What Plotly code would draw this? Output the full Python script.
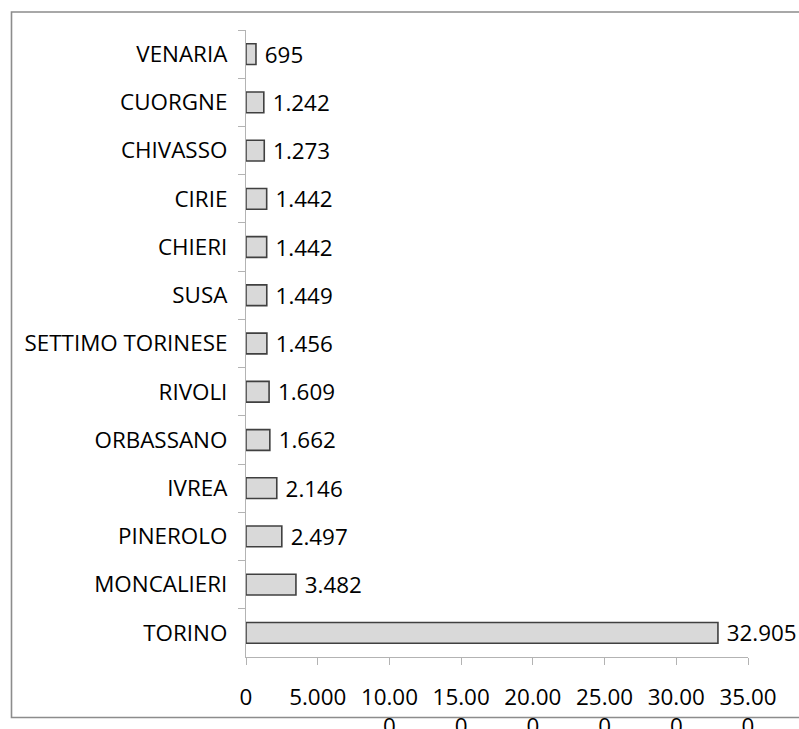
import plotly.graph_objects as go

# Data (top to bottom as displayed)
categories = ["VENARIA", "CUORGNE", "CHIVASSO", "CIRIE", "CHIERI", "SUSA",
              "SETTIMO TORINESE", "RIVOLI", "ORBASSANO", "IVREA", "PINEROLO",
              "MONCALIERI", "TORINO"]
values = [695, 1242, 1273, 1442, 1442, 1449, 1456, 1609, 1662, 2146, 2497, 3482, 32905]

tick_values = [0, 5000, 10000, 15000, 20000, 25000, 30000, 35000]
tick_labels = ["0", "5.000", "10.00<br>0", "15.00<br>0", "20.00<br>0",
               "25.00<br>0", "30.00<br>0", "35.00<br>0"]

FONT = "Open Sans"
W, H = 799, 729
L, R, T, B = 246, 51, 30, 72

fig = go.Figure(go.Bar(
    x=values, y=categories, orientation="h",
    marker=dict(color="#d9d9d9", line=dict(color="#404040", width=1.6)),
    texttemplate=" %{x:,}", textposition="outside", constraintext="none",
    cliponaxis=False,
    textfont=dict(family=FONT, size=22.4, color="#000000"),
    hoverinfo="skip",
))

pw = W - L - R
ph = H - T - B
def px2x(px):
    return (px - L) / pw
def py2y(py):
    return (H - B - py) / ph

fig.update_layout(
    width=W, height=H,
    margin=dict(l=L, r=R, t=T, b=B, autoexpand=False),
    paper_bgcolor="white", plot_bgcolor="white",
    separators=",.",
    bargap=0.57,
    showlegend=False,
    font=dict(family=FONT, size=22.4, color="#000000"),
    xaxis=dict(
        range=[0, 35000], tickvals=tick_values, ticktext=tick_labels,
        showgrid=False, zeroline=False,
        showline=True, linecolor="#b3b3b3", linewidth=1.3,
        ticks="outside", ticklen=7, tickcolor="#b3b3b3", tickwidth=1.3,
        ticklabelstandoff=13,
        tickfont=dict(family=FONT, size=22.4, color="#000000"),
        fixedrange=True,
    ),
    yaxis=dict(
        autorange="reversed", type="category",
        showgrid=False, zeroline=False,
        showline=True, linecolor="#b3b3b3", linewidth=1.3,
        ticks="outside", ticklen=7, tickcolor="#b3b3b3", tickwidth=1.3,
        tickson="boundaries", ticklabelstandoff=13,
        tickfont=dict(family=FONT, size=22.4, color="#000000"),
        fixedrange=True,
    ),
    shapes=[dict(
        type="rect", xref="paper", yref="paper",
        x0=px2x(11.5), x1=px2x(810), y0=py2y(717.5), y1=py2y(12),
        line=dict(color="#8c8c8c", width=1.6), fillcolor="rgba(0,0,0,0)",
        layer="below",
    )],
)

fig.write_html("out.html")
